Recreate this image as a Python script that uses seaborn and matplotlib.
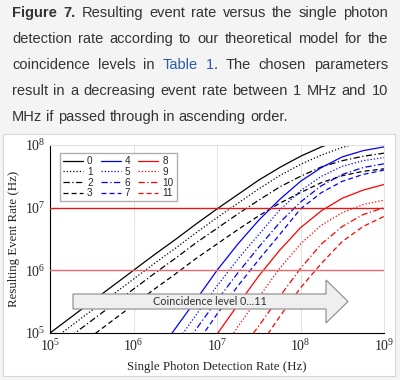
import numpy as np
import pandas as pd
import matplotlib
matplotlib.use("Agg")
import matplotlib.pyplot as plt
import seaborn as sns
from matplotlib.lines import Line2D
from matplotlib.patches import Rectangle, Polygon
from matplotlib.ticker import LogLocator, NullFormatter

# ---------------------------------------------------------------
# data (log10 of the rates, quarter-decade grid)
# ---------------------------------------------------------------
nan = np.nan
log_rate = [5.0, 5.25, 5.5, 5.75, 6.0, 6.25, 6.5, 6.75, 7.0,
            7.25, 7.5, 7.75, 8.0, 8.25, 8.5, 8.75, 9.0]

level_0 = [5.00, 5.25, 5.50, 5.75, 6.00, 6.25, 6.49, 6.74, 6.98, 7.21, 7.44, 7.64, 7.82, 7.97, 8.09, 8.18, 8.25]
level_1 = [4.86, 5.11, 5.36, 5.61, 5.86, 6.11, 6.35, 6.60, 6.84, 7.07, 7.30, 7.51, 7.69, 7.84, 7.96, 8.05, 8.10]
level_2 = [4.70, 4.95, 5.20, 5.45, 5.70, 5.95, 6.19, 6.44, 6.67, 6.90, 7.12, 7.33, 7.50, 7.65, 7.75, 7.82, 7.87]
level_3 = [4.45, 4.70, 4.95, 5.20, 5.45, 5.70, 5.94, 6.19, 6.42, 6.65, 6.87, 7.07, 7.24, 7.40, 7.51, 7.58, 7.62]
level_4 = [nan, nan, nan, nan, 4.12, 4.60, 5.07, 5.53, 6.00, 6.42, 6.80, 7.13, 7.42, 7.64, 7.81, 7.91, 7.97]
level_5 = [nan, nan, nan, nan, nan, nan, 4.82, 5.29, 5.75, 6.18, 6.57, 6.96, 7.27, 7.50, 7.66, 7.75, 7.80]
level_6 = [nan, nan, nan, nan, nan, nan, 4.60, 5.06, 5.52, 5.96, 6.37, 6.76, 7.09, 7.35, 7.53, 7.64, 7.70]
level_7 = [nan, nan, nan, nan, nan, nan, nan, 4.82, 5.30, 5.75, 6.17, 6.57, 6.98, 7.24, 7.42, 7.53, 7.60]
level_8 = [nan, nan, nan, nan, nan, nan, nan, nan, 4.98, 5.45, 5.91, 6.32, 6.68, 6.95, 7.15, 7.28, 7.37]
level_9 = [nan, nan, nan, nan, nan, nan, nan, nan, 4.62, 5.10, 5.57, 6.03, 6.42, 6.72, 6.92, 7.05, 7.12]
level_10 = [nan, nan, nan, nan, nan, nan, nan, nan, nan, 4.67, 5.11, 5.58, 6.03, 6.42, 6.70, 6.89, 7.00]
level_11 = [nan, nan, nan, nan, nan, nan, nan, nan, nan, nan, 4.77, 5.26, 5.72, 6.11, 6.46, 6.70, 6.86]

levels = [level_0, level_1, level_2, level_3, level_4, level_5,
          level_6, level_7, level_8, level_9, level_10, level_11]
level_names = [str(i) for i in range(12)]
threshold_rates = [1e7, 1e6]

caption_lines = [
    "Figure 7. Resulting event rate versus the single photon",
    "detection rate according to our theoretical model for the",
    "coincidence levels in Table 1. The chosen parameters",
    "result in a decreasing event rate between 1 MHz and 10",
    "MHz if passed through in ascending order.",
]

# ---------------------------------------------------------------
# styles
# ---------------------------------------------------------------
group_colors = ["#000000", "#0000ff", "#ff0000"]
group_dashes = ["", (1, 1.6), (5, 2, 1, 2), (4, 2.5)]
palette = {n: group_colors[i // 4] for i, n in enumerate(level_names)}
dashes = {n: group_dashes[i % 4] for i, n in enumerate(level_names)}

rows = []
for name, vals in zip(level_names, levels):
    for lx, ly in zip(log_rate, vals):
        if not np.isnan(ly):
            rows.append({"rate": 10 ** lx, "event": 10 ** ly, "level": name})
df = pd.DataFrame(rows)

sns.set_style("white")
plt.rcParams["font.family"] = ["Liberation Serif", "DejaVu Serif"]
plt.rcParams["mathtext.fontset"] = "stix"

W, H = 400, 380
fig = plt.figure(figsize=(W / 100, H / 100), dpi=100)
fig.patch.set_facecolor("#f4f4f4")

# white panel holding the chart
fig.patches.append(Rectangle((3 / W, 4 / H), 392 / W, 242 / H, transform=fig.transFigure,
                             facecolor="white", edgecolor="#d6d6d6", lw=0.8, zorder=-10))

ax = fig.add_axes([50 / W, 47 / H, 334 / W, 188 / H])
ax.set_facecolor("none")
ax.set_xscale("log")
ax.set_yscale("log")

sns.lineplot(data=df, x="rate", y="event", hue="level", style="level",
             hue_order=level_names, style_order=level_names,
             palette=palette, dashes=dashes, estimator=None, sort=True,
             linewidth=0.9, legend=False, ax=ax)

ax.axhline(threshold_rates[0], color="#e01818", lw=1.0, zorder=3)
ax.axhline(threshold_rates[1], color="#e86a6a", lw=1.0, zorder=3)

ax.set_xlim(1e5, 1e9)
ax.set_ylim(1e5, 1e8)
ax.grid(True, which="major", color="#e2e2e2", lw=0.7)
ax.set_axisbelow(True)
for side in ["top", "right"]:
    ax.spines[side].set_color("#e2e2e2")
for side in ["left", "bottom"]:
    ax.spines[side].set_color("black")
    ax.spines[side].set_linewidth(0.8)

ax.xaxis.set_minor_locator(LogLocator(base=10, subs=np.arange(2, 10)))
ax.yaxis.set_minor_locator(LogLocator(base=10, subs=[5]))
ax.xaxis.set_minor_formatter(NullFormatter())
ax.yaxis.set_minor_formatter(NullFormatter())
ax.tick_params(which="both", direction="in", top=False, right=False, labelsize=10)
ax.tick_params(which="major", length=3.5, width=0.7)
ax.tick_params(which="minor", length=2, width=0.6)
ax.tick_params(axis="x", pad=4)
ax.tick_params(axis="y", pad=3)

ax.set_xlabel("Single Photon Detection Rate (Hz)", fontsize=9.3, labelpad=5)
ax.set_ylabel("Resulting Event Rate (Hz)", fontsize=9.3, labelpad=4)

# legend
handles = []
for n in level_names:
    h = Line2D([], [], color=palette[n], lw=0.9)
    if dashes[n]:
        h.set_dashes(dashes[n])
    handles.append(h)
leg = ax.legend(handles, level_names, ncol=3, loc="upper left",
                bbox_to_anchor=(0.03, 0.957), borderaxespad=0,
                prop={"family": "Liberation Sans", "size": 7.2},
                handlelength=2.0, handletextpad=0.4, columnspacing=0.8,
                labelspacing=0.08, borderpad=0.3, frameon=True, fancybox=False)
leg.get_frame().set_edgecolor("#9a9a9a")
leg.get_frame().set_linewidth(1.0)

# arrow with text
def afx(px):
    return (px - 50) / 334

def afy(py):
    return (333 - py) / 188

arrow_pts = [(73, 294), (326, 294), (326, 280), (348, 301.5), (326, 323),
             (326, 309), (73, 309)]
arrow = Polygon([(afx(x), afy(y)) for x, y in arrow_pts], closed=True,
                transform=ax.transAxes, facecolor="#efefef", edgecolor="#8a8a8a",
                lw=0.8, zorder=5)
ax.add_patch(arrow)
ax.text(afx(210), afy(301.5), "Coincidence level 0...11", transform=ax.transAxes,
        ha="center", va="center", fontsize=7.8, family="Lato", color="#333333", zorder=6)

# justified caption
renderer = fig.canvas.get_renderer()
special = {(0, 0): [("Figure", "bold")], (0, 1): [("7.", "bold")],
           (2, 3): [("Table", "link")], (2, 4): [("1", "link"), (".", "plain")]}
cap_size = 10.5
left_px, right_px = 12, 388
baselines = [17, 43, 69, 95, 121]
for li, line in enumerate(caption_lines):
    words = line.split(" ")
    placed = []
    total = 0
    for wi, word in enumerate(words):
        segs = special.get((li, wi), [(word, "plain")])
        parts = []
        off = 0
        for txt, kind in segs:
            t = fig.text(0, 0, txt, fontsize=cap_size, family="Liberation Sans",
                         color="#2a5ca8" if kind == "link" else "#333333",
                         weight="bold" if kind == "bold" else "normal", va="baseline")
            parts.append((t, off))
            off += t.get_window_extent(renderer).width
        placed.append((parts, off))
        total += off
    if li < len(caption_lines) - 1:
        gap = (right_px - left_px - total) / (len(words) - 1)
    else:
        gap = 0.278 * cap_size * 100 / 72
    x = left_px
    for parts, wdt in placed:
        for t, off in parts:
            t.set_position(((x + off) / W, 1 - baselines[li] / H))
        x += wdt + gap

fig.savefig("out.png", dpi=100)
